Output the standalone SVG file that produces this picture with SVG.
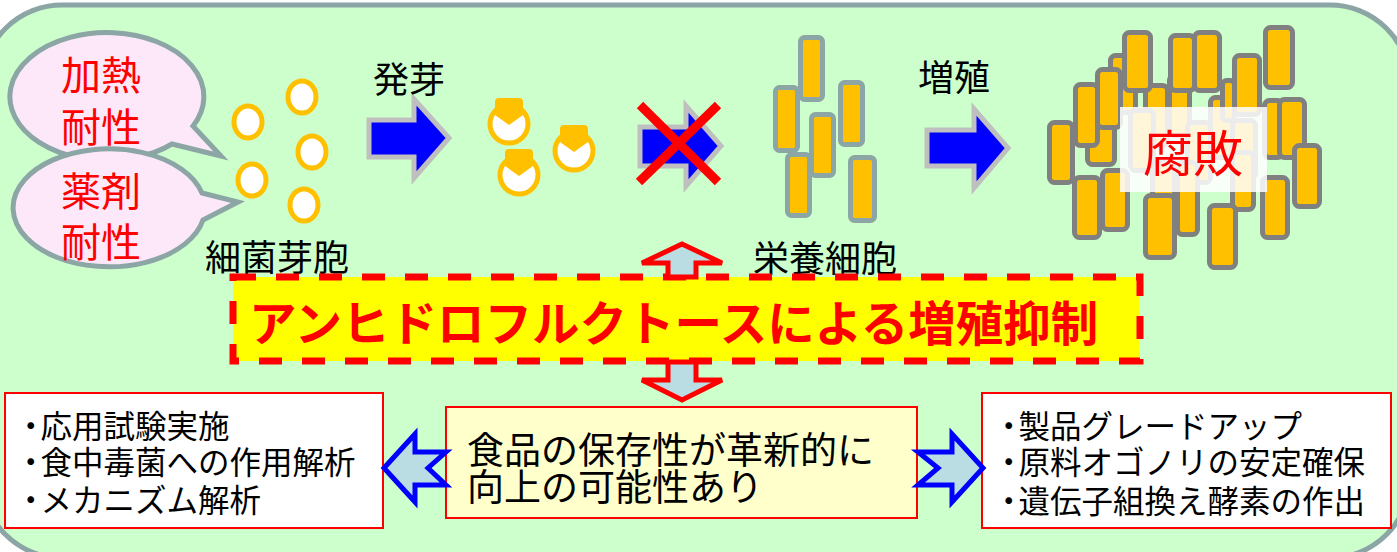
<svg xmlns="http://www.w3.org/2000/svg" width="1397" height="552" viewBox="0 0 1397 552">
  <style>
    .jp { font-family: "Noto Sans CJK JP", "Noto Sans", sans-serif; }
    .lbl { font-size: 36px; fill: #000; }
    .bub { fill: #FCE8F8; stroke: #8CA5A5; stroke-width: 5; }
    .bubtxt { font-size: 40px; fill: #FF0000; }
    .spore { fill: #FFFFFF; stroke: #FFC000; stroke-width: 5; }
    .cap { fill: #FFC000; }
    .veg { fill: #FFC000; stroke: #8CA5A5; stroke-width: 5; }
    .mass { fill: #FFC000; stroke: #808080; stroke-width: 5; }
    .flow { fill: #0000FF; stroke: #BFBFBF; stroke-width: 5; stroke-linejoin: miter; }
    .vert { fill: #B9DDE2; stroke: #FF0000; stroke-width: 5; stroke-linejoin: miter; }
    .side { fill: #B9DDE2; stroke: #0000FF; stroke-width: 5; stroke-linejoin: miter; }
    .box { fill: #FFFFFF; stroke: #FF0000; stroke-width: 2; }
    .list { font-size: 31.5px; fill: #000; }
  </style>

  <!-- background panel -->
  <rect x="-18" y="5" width="1428" height="553" rx="80" ry="80" fill="#CCFFCC" stroke="#8CA5A5" stroke-width="5"/>

  <!-- speech bubbles -->
  <g id="bubble-heat">
    <path class="bub" d="M193,126 L221,156 L172,144 A97,64 0 1 1 193,126 Z"/>
    <text class="jp bubtxt" x="101" y="73" text-anchor="middle" dominant-baseline="central">加熱</text>
    <text class="jp bubtxt" x="101" y="125" text-anchor="middle" dominant-baseline="central">耐性</text>
  </g>
  <g id="bubble-drug">
    <path class="bub" d="M202,193 L238,202 L203,220 A96,59 0 1 1 202,193 Z"/>
    <text class="jp bubtxt" x="101" y="189" text-anchor="middle" dominant-baseline="central">薬剤</text>
    <text class="jp bubtxt" x="101" y="240" text-anchor="middle" dominant-baseline="central">耐性</text>
  </g>

  <!-- bacterial spores -->
  <g id="spores">
    <ellipse class="spore" cx="248" cy="122" rx="14" ry="16"/>
    <ellipse class="spore" cx="302" cy="97" rx="14" ry="16"/>
    <ellipse class="spore" cx="312" cy="152" rx="14" ry="16"/>
    <ellipse class="spore" cx="252" cy="180" rx="14" ry="16"/>
    <ellipse class="spore" cx="304" cy="205" rx="14" ry="16"/>
    <text class="jp lbl" x="277" y="255" text-anchor="middle" dominant-baseline="central">細菌芽胞</text>
  </g>

  <!-- germinating spores -->
  <g id="germinating">
    <g transform="translate(509,124)">
      <circle class="spore" r="19"/>
      <path class="cap" d="M-14,-9 L-14,-22 Q-14,-26 -10,-26 L10,-26 Q14,-26 14,-22 L14,-9 L0,1 Z"/>
    </g>
    <g transform="translate(519,175)">
      <circle class="spore" r="19"/>
      <path class="cap" d="M-14,-9 L-14,-22 Q-14,-26 -10,-26 L10,-26 Q14,-26 14,-22 L14,-9 L0,1 Z"/>
    </g>
    <g transform="translate(574,151)">
      <circle class="spore" r="19"/>
      <path class="cap" d="M-14,-9 L-14,-22 Q-14,-26 -10,-26 L10,-26 Q14,-26 14,-22 L14,-9 L0,1 Z"/>
    </g>
  </g>

  <!-- vegetative cells -->
  <g id="vegetative">
    <rect class="veg" x="775.5" y="87.5" width="22" height="63" rx="4"/>
    <rect class="veg" x="800.5" y="37.5" width="22" height="62" rx="4"/>
    <rect class="veg" x="840.5" y="82.5" width="22" height="62" rx="4"/>
    <rect class="veg" x="811.5" y="114.5" width="22" height="61" rx="4"/>
    <rect class="veg" x="787.5" y="154.5" width="22" height="61" rx="4"/>
    <rect class="veg" x="850.5" y="157.5" width="24" height="63" rx="4"/>
    <text class="jp lbl" x="825" y="256" text-anchor="middle" dominant-baseline="central">栄養細胞</text>
  </g>

  <!-- proliferated mass with spoilage label -->
  <g id="spoilage">
    <rect class="mass" x="1110.5" y="55.5" width="25" height="57" rx="5"/>
    <rect class="mass" x="1087.5" y="105.5" width="27" height="59" rx="5"/>
    <rect class="mass" x="1145.5" y="85.5" width="22" height="60" rx="5"/>
    <rect class="mass" x="1169.5" y="75.5" width="20" height="60" rx="5"/>
    <rect class="mass" x="1210.5" y="97.5" width="22" height="60" rx="5"/>
    <rect class="mass" x="1222.5" y="80.5" width="12" height="40" rx="4"/>
    <rect class="mass" x="1130.5" y="110.5" width="23" height="60" rx="5"/>
    <rect class="mass" x="1187.5" y="122.5" width="23" height="60" rx="5"/>
    <rect class="mass" x="1232.5" y="120.5" width="23" height="58" rx="5"/>
    <rect class="mass" x="1152.5" y="162.5" width="22" height="60" rx="5"/>
    <rect class="mass" x="1075.5" y="84.5" width="22" height="61" rx="5"/>
    <rect class="mass" x="1097.5" y="69.5" width="23" height="58" rx="5"/>
    <rect class="mass" x="1049.5" y="122.5" width="23" height="60" rx="5"/>
    <rect class="mass" x="1102.5" y="170.5" width="25" height="59" rx="5"/>
    <rect class="mass" x="1074.5" y="177.5" width="25" height="60" rx="5"/>
    <rect class="mass" x="1124.5" y="32.5" width="26" height="58" rx="5"/>
    <rect class="mass" x="1170.5" y="35.5" width="24" height="55" rx="5"/>
    <rect class="mass" x="1194.5" y="32.5" width="25" height="58" rx="5"/>
    <rect class="mass" x="1234.5" y="55.5" width="25" height="59" rx="5"/>
    <rect class="mass" x="1265.5" y="27.5" width="27" height="60" rx="5"/>
    <rect class="mass" x="1264.5" y="100.5" width="18" height="57" rx="5"/>
    <rect class="mass" x="1279.5" y="99.5" width="25" height="58" rx="5"/>
    <rect class="mass" x="1294.5" y="145.5" width="25" height="61" rx="5"/>
    <rect class="mass" x="1232.5" y="152.5" width="21" height="57" rx="5"/>
    <rect class="mass" x="1262.5" y="177.5" width="25" height="60" rx="5"/>
    <rect class="mass" x="1177.5" y="162.5" width="20" height="72" rx="5"/>
    <rect class="mass" x="1145.5" y="195.5" width="29" height="62" rx="5"/>
    <rect class="mass" x="1209.5" y="205.5" width="26" height="62" rx="5"/>
    <rect x="1120" y="107" width="147" height="85" fill="#FFFFFF" fill-opacity="0.85"/>
    <text class="jp" x="1193" y="150" font-size="50" fill="#FF0000" text-anchor="middle" dominant-baseline="central">腐敗</text>
  </g>

  <!-- headline: growth inhibition -->
  <g id="inhibition">
    <rect x="233" y="277" width="907" height="84" fill="#FFFF00" stroke="#FF0000" stroke-width="7" stroke-dasharray="23 20"/>
    <text class="jp" x="249" y="320" font-size="47.5" font-weight="bold" fill="#FF0000" dominant-baseline="central">アンヒドロフルクトースによる増殖抑制</text>
  </g>

  <!-- outcome -->
  <g id="outcome">
    <rect x="446" y="407" width="471" height="111" fill="#FFFFCC" stroke="#FF0000" stroke-width="2"/>
    <text class="jp" font-size="37" fill="#000">
      <tspan x="467" y="464">食品の保存性が革新的に</tspan>
      <tspan x="467" y="501">向上の可能性あり</tspan>
    </text>
  </g>

  <!-- research topics -->
  <g id="research">
    <rect class="box" x="5" y="393" width="378" height="135"/>
    <text class="jp list" x="15" y="424" dominant-baseline="central"><tspan>・</tspan><tspan dx="-6">応用試験実施</tspan></text>
    <text class="jp list" x="15" y="460" dominant-baseline="central"><tspan>・</tspan><tspan dx="-6">食中毒菌への作用解析</tspan></text>
    <text class="jp list" x="15" y="498" dominant-baseline="central"><tspan>・</tspan><tspan dx="-6">メカニズム解析</tspan></text>
  </g>

  <!-- industrial topics -->
  <g id="industry">
    <rect class="box" x="982" y="393" width="409" height="135"/>
    <text class="jp list" x="993" y="424" dominant-baseline="central"><tspan>・</tspan><tspan dx="-6">製品グレードアップ</tspan></text>
    <text class="jp list" x="993" y="460" dominant-baseline="central"><tspan>・</tspan><tspan dx="-6">原料オゴノリの安定確保</tspan></text>
    <text class="jp list" x="993" y="499" dominant-baseline="central"><tspan>・</tspan><tspan dx="-6">遺伝子組換え酵素の作出</tspan></text>
  </g>

  <!-- connectors -->
  <g id="connectors">
    <!-- germination -->
    <path class="flow" d="M369,120 L414,120 L414,99 L449,138 L414,178 L414,157 L369,157 Z"/>
    <text class="jp lbl" x="409" y="77" text-anchor="middle" dominant-baseline="central">発芽</text>
    <!-- blocked step -->
    <path class="flow" d="M640,127 L686,127 L686,106 L721,146 L686,186 L686,166 L640,166 Z"/>
    <line x1="640" y1="105" x2="718" y2="182" stroke="#FF0000" stroke-width="9"/>
    <line x1="639" y1="182" x2="718" y2="105" stroke="#FF0000" stroke-width="9"/>
    <!-- proliferation -->
    <path class="flow" d="M927,130 L974,130 L974,109 L1008,148 L974,188 L974,166 L927,166 Z"/>
    <text class="jp lbl" x="954" y="75" text-anchor="middle" dominant-baseline="central">増殖</text>
    <!-- up / down -->
    <path class="vert" d="M682,244 L722,263 L696,263 L696,277 L668,277 L668,263 L642,263 Z"/>
    <path class="vert" d="M668,362 L696,362 L696,380 L722,380 L682,400 L642,380 L668,380 Z"/>
    <!-- left / right -->
    <path class="side" d="M384,468 L415,434 L415,452 L446,452 L428,468 L446,485 L415,485 L415,502 Z"/>
    <path class="side" d="M918,452 L952,452 L952,434 L983,468 L952,502 L952,485 L918,485 L938,468 Z"/>
  </g>
</svg>
